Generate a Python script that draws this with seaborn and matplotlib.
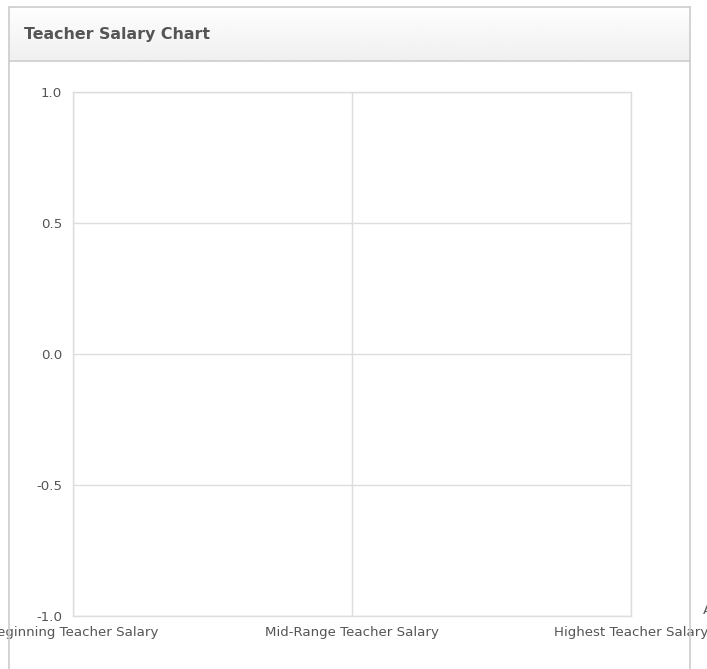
import numpy as np
import pandas as pd
import matplotlib
matplotlib.use("Agg")
import matplotlib.pyplot as plt
import seaborn as sns
from matplotlib.lines import Line2D

# chart data (the reference chart has no plotted values)
categories = ["Beginning Teacher Salary", "Mid-Range Teacher Salary", "Highest Teacher Salary"]
salaries = [np.nan, np.nan, np.nan]
y_ticks = [-1.0, -0.5, 0.0, 0.5, 1.0]
title = "Teacher Salary Chart"

sns.set_style("white")
plt.rcParams['font.family'] = ['DejaVu Sans']

W, H = 707, 669
fig = plt.figure(figsize=(W / 100, H / 100), dpi=100)

def fx(px):
    return px / W

def fy(py):
    return 1 - py / H

# panel header with a light gradient
hdr = fig.add_axes([fx(9), fy(60), fx(690 - 9), (60 - 7) / H])
grad = np.linspace(0.995, 0.94, 50).reshape(-1, 1)
hdr.imshow(grad, cmap="gray", vmin=0, vmax=1, aspect="auto", extent=[0, 1, 0, 1])
hdr.set_axis_off()
fig.text(fx(24), fy(34), title, fontsize=11.4, fontweight="bold", color="#555555",
         va="center", ha="left")

# panel border
for xs, ys in [([9, 9], [7, 669]), ([690, 690], [7, 669]), ([9, 690], [7, 7]),
               ([9, 690], [60.5, 60.5])]:
    fig.add_artist(Line2D([fx(x) for x in xs], [fy(y) for y in ys],
                          color="#cccccc", lw=1.2))

# plot area
ax = fig.add_axes([fx(73), fy(616), fx(631 - 73), (616 - 92) / H])
df = pd.DataFrame({"x": range(len(categories)), "salary": salaries})
sns.lineplot(data=df, x="x", y="salary", ax=ax)

ax.set_xlim(0, len(categories) - 1)
ax.set_ylim(y_ticks[0], y_ticks[-1])
ax.set_xticks(range(len(categories)))
ax.set_xticklabels(categories)
ax.set_yticks(y_ticks)
ax.set_yticklabels([f"{v:.1f}" for v in y_ticks])
ax.grid(True, color="#dddddd", lw=1)
for s in ax.spines.values():
    s.set_color("#dddddd")
    s.set_linewidth(1)
ax.tick_params(axis="both", length=0, labelsize=9.6, colors="#555555")
ax.tick_params(axis="y", pad=8)
ax.tick_params(axis="x", pad=7)
ax.set_xlabel("")
ax.set_ylabel("")

# clipped axis title at the right edge
fig.text(fx(703), fy(610), "A", fontsize=9.6, color="#555555", ha="left", va="center")

fig.savefig("out.png", dpi=100)
